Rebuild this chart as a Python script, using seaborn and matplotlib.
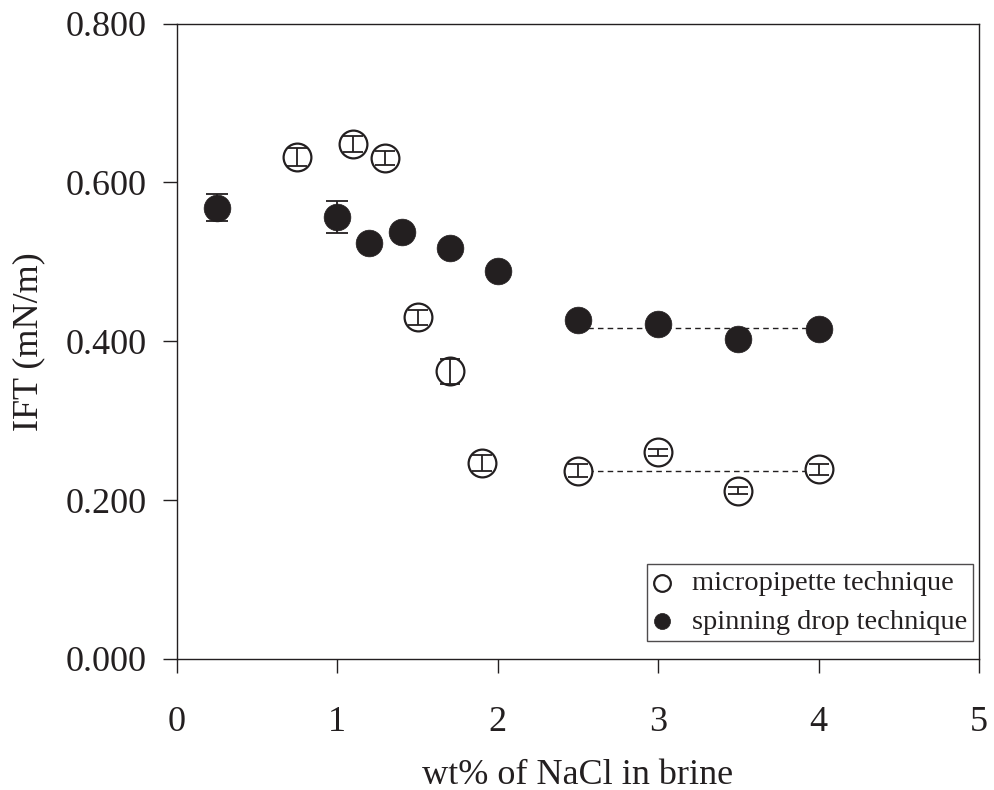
import numpy as np
import matplotlib
matplotlib.use("Agg")
import matplotlib.pyplot as plt
import seaborn as sns

# micropipette technique (open circles)
micro_x = [0.75, 1.1, 1.3, 1.5, 1.7, 1.9, 2.5, 3.0, 3.5, 4.0]
micro_y = [0.632, 0.648, 0.631, 0.430, 0.362, 0.247, 0.237, 0.260, 0.212, 0.239]
micro_err = [0.011, 0.010, 0.009, 0.009, 0.016, 0.010, 0.008, 0.004, 0.004, 0.007]

# spinning drop technique (filled circles)
spin_x = [0.25, 1.0, 1.2, 1.4, 1.7, 2.0, 2.5, 3.0, 3.5, 4.0]
spin_y = [0.568, 0.557, 0.524, 0.538, 0.518, 0.488, 0.427, 0.422, 0.403, 0.416]
spin_err = [0.017, 0.020, 0.005, 0.005, 0.005, 0.005, 0.005, 0.005, 0.005, 0.005]

# plateau region averaged with a dashed line
plateau_x = [2.5, 4.0]

ink = "#231f20"

sns.set_style("ticks")
plt.rcParams["font.family"] = ["Liberation Serif", "DejaVu Serif"]

fig = plt.figure(figsize=(9.94, 7.90), dpi=100)
ax = fig.add_axes([0.178, 0.166, 0.807, 0.804])

# dashed average lines
spin_mean = np.mean(spin_y[6:])
micro_mean = np.mean(micro_y[6:])
ax.plot(plateau_x, [spin_mean, spin_mean], ls=(0, (4, 3)), color=ink, lw=1.0, zorder=1)
ax.plot(plateau_x, [micro_mean, micro_mean], ls=(0, (4, 3)), color=ink, lw=1.0, zorder=1)

# spinning drop: error bars behind filled markers
ax.errorbar(spin_x, spin_y, yerr=spin_err, fmt="none", ecolor=ink, elinewidth=1.3,
            capsize=8, capthick=1.3, zorder=2)
sns.scatterplot(x=spin_x, y=spin_y, ax=ax, s=370, color=ink, edgecolor=ink,
                linewidth=0.5, zorder=3, label="spinning drop technique")

# micropipette: open markers with error bars drawn inside
sns.scatterplot(x=micro_x, y=micro_y, ax=ax, s=400, facecolor="white", edgecolor=ink,
                linewidth=1.6, zorder=3, label="micropipette technique")
ax.errorbar(micro_x, micro_y, yerr=micro_err, fmt="none", ecolor=ink, elinewidth=1.3,
            capsize=7, capthick=1.3, zorder=4)

ax.set_xlim(0, 5)
ax.set_ylim(0, 0.8)
ax.set_xticks([0, 1, 2, 3, 4, 5])
ax.set_yticks([0, 0.2, 0.4, 0.6, 0.8])
ax.set_yticklabels(["0.000", "0.200", "0.400", "0.600", "0.800"])
ax.tick_params(axis="both", direction="out", length=10, width=1.0, colors=ink,
               labelsize=26, labelcolor=ink, pad=12)
ax.tick_params(axis="x", pad=24)
for sp in ax.spines.values():
    sp.set_visible(True)
    sp.set_color(ink)
    sp.set_linewidth(1.0)

ax.set_xlabel("wt% of NaCl in brine", fontsize=26, color=ink, labelpad=14)
ax.set_ylabel("IFT (mN/m)", fontsize=26, color=ink, labelpad=14)

handles, labels = ax.get_legend_handles_labels()
order = [labels.index("micropipette technique"), labels.index("spinning drop technique")]
leg = ax.legend([handles[i] for i in order], [labels[i] for i in order],
                loc="lower right", bbox_to_anchor=(0.993, 0.028), fontsize=20.5,
                frameon=True, fancybox=False, edgecolor=ink, markerscale=0.6,
                handletextpad=0.75, borderpad=0.22, labelspacing=0.45,
                handlelength=0.6, borderaxespad=0)
leg.get_frame().set_linewidth(1.0)
for t in leg.get_texts():
    t.set_color(ink)

fig.savefig("out.png", dpi=100)
